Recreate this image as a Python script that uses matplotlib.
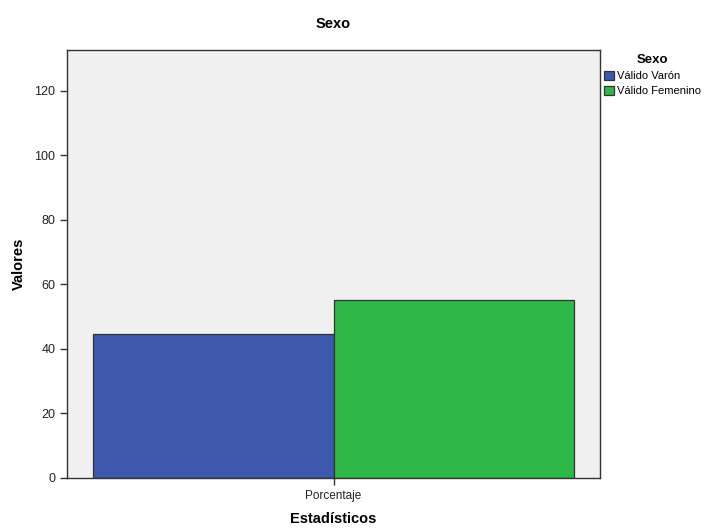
import matplotlib
matplotlib.use("Agg")
import matplotlib.pyplot as plt

plt.rcParams['font.family'] = ['Liberation Sans', 'DejaVu Sans']

categories = ["Porcentaje"]
series_names = ["Válido Varón", "Válido Femenino"]
series_values = [[44.7], [55.3]]
colors = ["#3e58ac", "#2eb848"]
yticks = [0, 20, 40, 60, 80, 100, 120]

fig = plt.figure(figsize=(7.1, 5.28), dpi=100)
ax = fig.add_axes([67/710, 50/528, 533/710, 428/528])
ax.set_facecolor("#f0f0f0")

w = 0.452
offsets = [-w/2, w/2]
handles = []
for i, (name, vals) in enumerate(zip(series_names, series_values)):
    b = ax.bar([offsets[i]], vals, width=w, color=colors[i], edgecolor="#333333", linewidth=0.9, label=name)
    handles.append(b)

ax.set_xlim(-0.5, 0.5)
ax.set_ylim(0, 132.7)
ax.set_xticks([0])
ax.set_xticklabels(categories, fontsize=8.5)
ax.set_yticks(yticks)
ax.set_yticklabels([str(t) for t in yticks], fontsize=9)
ax.tick_params(axis='both', direction='out', length=5, width=1, colors="#333333", labelcolor="#222222")
for s in ax.spines.values():
    s.set_color("#333333")
    s.set_linewidth(1)

ax.set_title("Sexo", fontsize=10.5, fontweight='bold', pad=16)
ax.set_xlabel("Estadísticos", fontsize=10.5, fontweight='bold', labelpad=7)
ax.set_ylabel("Valores", fontsize=10.5, fontweight='bold', labelpad=6)

leg = ax.legend(handles=handles, title="Sexo", loc='upper left', bbox_to_anchor=(1.0, 1.0),
                frameon=False, fontsize=8, title_fontsize=9.5, handlelength=0.9, handleheight=0.9,
                handletextpad=0.2, borderaxespad=0.1, labelspacing=0.4, borderpad=0.3)
leg.get_title().set_fontweight('bold')
for p in leg.get_patches():
    p.set_edgecolor("#333333")

fig.savefig("out.png", dpi=100)
